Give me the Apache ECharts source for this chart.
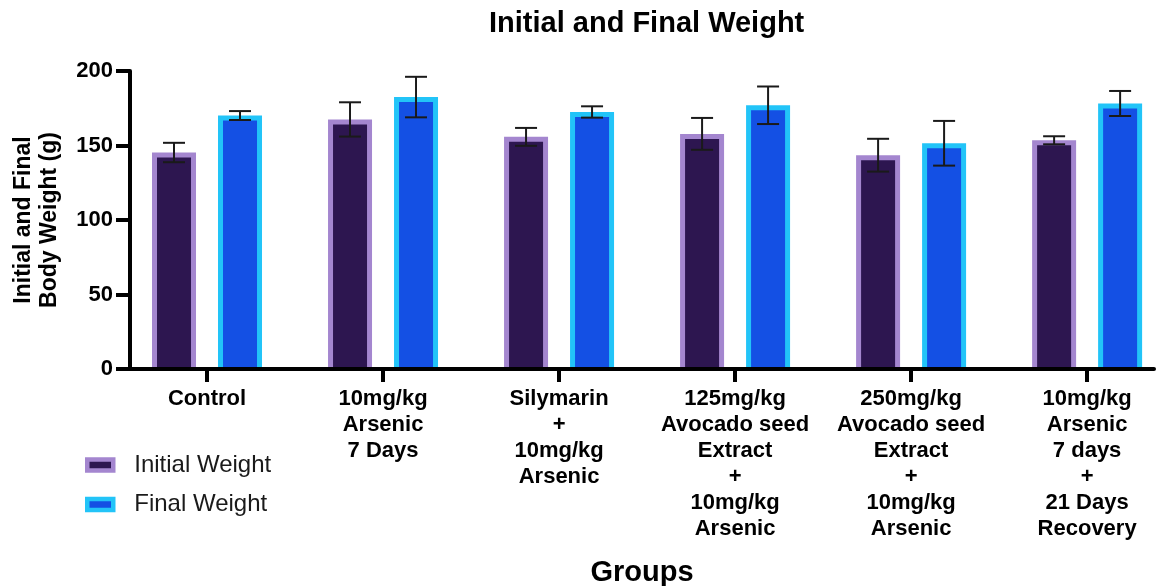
<!DOCTYPE html>
<html>
<head>
<meta charset="utf-8">
<title>Initial and Final Weight</title>
<script src="https://cdn.jsdelivr.net/npm/echarts@6/dist/echarts.min.js"></script>
<style>
  html, body { margin: 0; padding: 0; background: #fff; }
  #chart { width: 1156px; height: 586px; }
</style>
</head>
<body>
<div id="chart"></div>
<script>
// groups on the x axis (one label per group, lines split with \n)
const groups = [
  'Control',
  '10mg/kg\nArsenic\n7 Days',
  'Silymarin\n+\n10mg/kg\nArsenic',
  '125mg/kg\nAvocado seed\nExtract\n+\n10mg/kg\nArsenic',
  '250mg/kg\nAvocado seed\nExtract\n+\n10mg/kg\nArsenic',
  '10mg/kg\nArsenic\n7 days\n+\n21 Days\nRecovery'
];
const groupPos = [0, 1, 2, 3, 4, 5];

// mean and error
const initialMean = [145.3, 167.5, 155.8, 157.8, 143.5, 153.5];
const initialErr  = [6.5, 11.5, 6.0, 10.7, 11.0, 2.7];
const finalMean   = [170.1, 182.5, 172.5, 177.0, 151.5, 178.2];
const finalErr    = [3.0, 13.6, 3.8, 12.6, 15.0, 8.4];

const yTicks = [0, 50, 100, 150, 200];

const FONT = '"Liberation Sans", Arial, sans-serif';
const INIT_FILL = '#2d1650', INIT_EDGE = '#a486cf';
const FIN_FILL = '#1450e4', FIN_EDGE = '#22c4f8';

const chart = echarts.init(document.getElementById('chart'));

// bar with an inside border plus an error bar, drawn via the axis scales
function barRenderer(offset, fill, edge) {
  return function (params, api) {
    const x = api.value(0), mean = api.value(1), err = api.value(2);
    const top = api.coord([x, mean]);
    const base = api.coord([x, 0]);
    const hi = api.coord([x, mean + err]);
    const lo = api.coord([x, mean - err]);
    const cx = top[0] + offset;
    const w = 44, b = 5, cap = 11;
    const errStyle = { stroke: '#1a1a1a', lineWidth: 2 };
    return {
      type: 'group',
      children: [
        { type: 'rect', shape: { x: cx - w / 2, y: top[1], width: w, height: base[1] - top[1] }, style: { fill: edge } },
        { type: 'rect', shape: { x: cx - w / 2 + b, y: top[1] + b, width: w - 2 * b, height: base[1] - top[1] - b }, style: { fill: fill } },
        { type: 'line', shape: { x1: cx, y1: hi[1], x2: cx, y2: lo[1] }, style: errStyle },
        { type: 'line', shape: { x1: cx - cap, y1: hi[1], x2: cx + cap, y2: hi[1] }, style: errStyle },
        { type: 'line', shape: { x1: cx - cap, y1: lo[1], x2: cx + cap, y2: lo[1] }, style: errStyle }
      ]
    };
  };
}

const option = {
  backgroundColor: '#fff',
  animation: false,
  title: {
    text: 'Initial and Final Weight',
    left: 489,
    top: 9,
    padding: 0,
    textStyle: { fontFamily: FONT, fontSize: 29, fontWeight: 'bold', color: '#000' }
  },
  legend: {
    orient: 'vertical',
    left: 85,
    top: 453,
    padding: 0,
    itemWidth: 26,
    itemHeight: 11,
    itemGap: 15.5,
    icon: 'rect',
    textStyle: { fontFamily: FONT, fontSize: 24, color: '#1a1a1a', padding: [0, 0, 0, 16] },
    data: [
      { name: 'Initial Weight', itemStyle: { color: INIT_FILL, borderColor: INIT_EDGE, borderWidth: 4.5 } },
      { name: 'Final Weight', itemStyle: { color: FIN_FILL, borderColor: FIN_EDGE, borderWidth: 4.5 } }
    ]
  },
  grid: { left: 130, top: 71, right: 2, bottom: 217, outerBoundsMode: 'none' },
  xAxis: {
    type: 'value',
    min: -0.4375,
    max: 5.38,
    z: 5,
    name: 'Groups',
    nameLocation: 'middle',
    nameGap: 189,
    nameTextStyle: { fontFamily: FONT, fontSize: 29, fontWeight: 'bold', color: '#000' },
    splitLine: { show: false },
    axisLine: { lineStyle: { color: '#000', width: 4 } },
    axisTick: { customValues: groupPos, length: 13, lineStyle: { color: '#000', width: 4 } },
    axisLabel: {
      customValues: groupPos,
      formatter: function (v) { return groups[Math.round(v)]; },
      margin: 17,
      fontFamily: FONT, fontSize: 22, fontWeight: 'bold', color: '#000', lineHeight: 26
    }
  },
  yAxis: {
    type: 'value',
    min: yTicks[0],
    max: yTicks[yTicks.length - 1],
    interval: 50,
    z: 5,
    name: 'Initial and Final\nBody Weight (g)',
    nameLocation: 'middle',
    nameGap: 67,
    nameTextStyle: { fontFamily: FONT, fontSize: 23, fontWeight: 'bold', color: '#000', lineHeight: 26 },
    splitLine: { show: false },
    axisLine: { show: true, onZero: false, lineStyle: { color: '#000', width: 4 } },
    axisTick: { show: true, length: 14, lineStyle: { color: '#000', width: 4 } },
    axisLabel: { margin: 17, fontFamily: FONT, fontSize: 22, fontWeight: 'bold', color: '#000' }
  },
  series: [
    {
      name: 'Initial Weight',
      type: 'custom',
      itemStyle: { color: INIT_FILL, borderColor: INIT_EDGE, borderWidth: 4.5 },
      encode: { x: 0, y: 1 },
      renderItem: barRenderer(-33, INIT_FILL, INIT_EDGE),
      data: groupPos.map((x, i) => [x, initialMean[i], initialErr[i]])
    },
    {
      name: 'Final Weight',
      type: 'custom',
      itemStyle: { color: FIN_FILL, borderColor: FIN_EDGE, borderWidth: 4.5 },
      encode: { x: 0, y: 1 },
      renderItem: barRenderer(33, FIN_FILL, FIN_EDGE),
      data: groupPos.map((x, i) => [x, finalMean[i], finalErr[i]])
    }
  ]
};

chart.setOption(option);
</script>
</body>
</html>
